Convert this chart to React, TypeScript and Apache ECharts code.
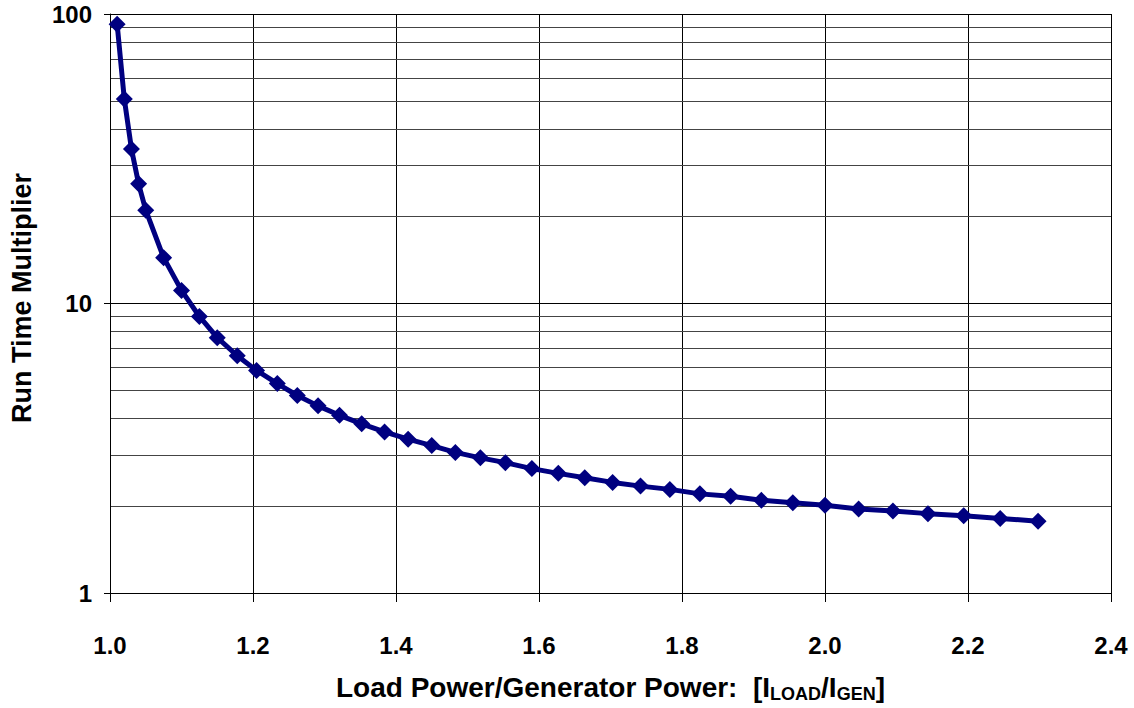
import React, { useEffect, useRef } from "react";
import * as echarts from "echarts";

const ratio = [1.01, 1.02, 1.03, 1.04, 1.05, 1.075, 1.1, 1.125, 1.15, 1.178, 1.205, 1.234, 1.262, 1.291, 1.321, 1.352, 1.384, 1.417, 1.45, 1.483, 1.518, 1.553, 1.59, 1.627, 1.664, 1.703, 1.742, 1.783, 1.825, 1.868, 1.911, 1.955, 2.0, 2.047, 2.095, 2.144, 2.194, 2.245, 2.298];
const multiplier = [92.1, 50.9, 34.2, 25.9, 21.0, 14.4, 11.1, 9.02, 7.62, 6.6, 5.87, 5.29, 4.81, 4.43, 4.11, 3.84, 3.6, 3.4, 3.23, 3.06, 2.93, 2.82, 2.69, 2.59, 2.5, 2.41, 2.34, 2.28, 2.2, 2.16, 2.09, 2.05, 2.01, 1.95, 1.92, 1.88, 1.85, 1.81, 1.77];
const minorGrid = [2, 3, 4, 5, 6, 7, 8, 9, 20, 30, 40, 50, 60, 70, 80, 90];

const FONT = '"Liberation Sans", Arial, sans-serif';

export default function App() {
  const ref = useRef<HTMLDivElement>(null);
  useEffect(() => {
    document.body.style.margin = "0";
    const chart = echarts.init(ref.current!, null, { renderer: "svg" });
    chart.setOption({
      animation: false,
      backgroundColor: "#ffffff",
      grid: { left: 110, right: 23, top: 14, bottom: 104 },
      xAxis: {
        type: "value",
        min: 1,
        max: 2.4,
        interval: 0.2,
        axisLine: { show: true, lineStyle: { color: "#000", width: 1 } },
        axisTick: { show: true, length: 9, lineStyle: { color: "#000" } },
        axisLabel: {
          margin: 40,
          fontSize: 24,
          fontWeight: "bold",
          color: "#000",
          fontFamily: FONT,
          formatter: (v: number) => v.toFixed(1),
        },
        splitLine: { show: true, lineStyle: { color: "#000", width: 1 } },
        name: "{a|Load Power/Generator Power:  [I}{s|LOAD}{a|/I}{s|GEN}{a|]}",
        nameLocation: "middle",
        nameGap: 76,
        nameTextStyle: {
          rich: {
            a: { fontSize: 28, fontWeight: "bold", color: "#000", fontFamily: FONT, lineHeight: 32, verticalAlign: "bottom" },
            s: { fontSize: 18, fontWeight: "bold", color: "#000", fontFamily: FONT, lineHeight: 18, verticalAlign: "bottom", padding: [0, 0, -2, 0] },
          },
        },
      },
      yAxis: {
        type: "log",
        logBase: 10,
        min: 1,
        max: 100,
        axisLine: { show: true, lineStyle: { color: "#000", width: 1 } },
        axisTick: { show: true, length: 6, lineStyle: { color: "#000" } },
        axisLabel: {
          margin: 18,
          fontSize: 24,
          fontWeight: "bold",
          color: "#000",
          fontFamily: FONT,
          formatter: (v: number) => String(Math.round(v)),
        },
        splitLine: { show: true, lineStyle: { color: "#000", width: 1 } },
      },
      graphic: [
        {
          type: "text",
          x: 22,
          y: 298,
          rotation: Math.PI / 2,
          style: {
            text: "Run Time Multiplier",
            fontSize: 27,
            fontWeight: "bold",
            fontFamily: FONT,
            fill: "#000",
            align: "center",
            verticalAlign: "middle",
          },
        },
      ],
      series: [
        {
          type: "line",
          data: [],
          z: 0,
          silent: true,
          markLine: {
            silent: true,
            z: 0,
            symbol: "none",
            label: { show: false },
            lineStyle: { color: "#444", width: 1, type: "solid" },
            emphasis: { disabled: true },
            data: minorGrid.map((v) => ({ yAxis: v })),
          },
        },
        {
          type: "line",
          z: 5,
          data: ratio.map((x, i) => [x, multiplier[i]]),
          lineStyle: { color: "#000080", width: 5 },
          itemStyle: { color: "#000080" },
          symbol: "diamond",
          symbolSize: 17,
          showSymbol: true,
        },
      ],
    });
    return () => chart.dispose();
  }, []);
  return <div ref={ref} style={{ width: 1134, height: 708 }} />;
}
